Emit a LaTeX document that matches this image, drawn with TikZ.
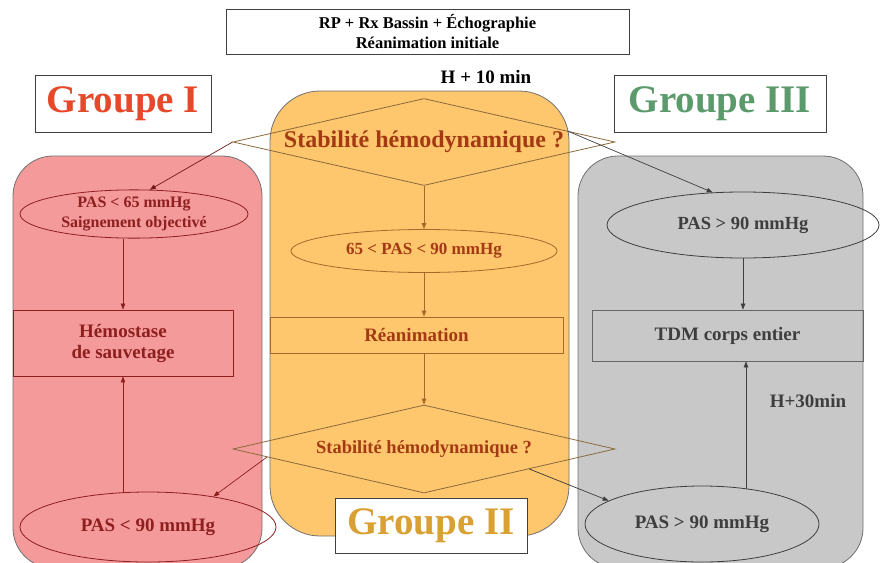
\documentclass[tikz,border=0pt]{standalone}
\usepackage{fontspec}
\setmainfont{Liberation Serif}
\usetikzlibrary{shapes.geometric,arrows.meta,calc}
\definecolor{redfill}{HTML}{F59A9B}
\definecolor{orfill}{HTML}{FEC66D}
\definecolor{grfill}{HTML}{C8C8C8}
\definecolor{redtxt}{HTML}{8E1F1F}
\definecolor{ortxt}{HTML}{A43A14}
\definecolor{orline}{HTML}{A8682C}
\definecolor{dialine}{HTML}{8C6A3C}
\definecolor{grtxt}{HTML}{3E3E3E}
\definecolor{panelline}{HTML}{707070}
\definecolor{gOne}{HTML}{E8482A}
\definecolor{gTwo}{HTML}{D9A033}
\definecolor{gThree}{HTML}{5B9A6B}
\newcommand{\fs}[2]{\fontsize{#1}{#2}\selectfont}
\tikzset{
  panel/.style={draw=panelline, line width=0.8pt, rounded corners=45pt},
  grbox/.style={draw=black!75, fill=white, line width=0.8pt, inner sep=0pt, font=\bfseries},
  ell/.style={ellipse, draw, line width=0.8pt, inner sep=0pt, align=center, font=\bfseries},
  rbox/.style={rectangle, draw, line width=0.8pt, inner sep=0pt, align=center, font=\bfseries},
  dia/.style={diamond, draw=dialine, line width=0.8pt, inner sep=0pt},
  arr/.style={-{Triangle[length=6pt,width=4.5pt]}, line width=0.7pt},
}
\begin{document}
\begin{tikzpicture}[x=1pt,y=-1pt]
\useasboundingbox (0,0) rectangle (885,562);
\clip (0,0) rectangle (885,562);
% top box
\node[grbox, minimum width=403pt, minimum height=45pt, align=center, font=\bfseries\fs{16.5}{20}] (top) at (427.5,31.5) {RP + Rx Bassin + Échographie\\Réanimation initiale};
\node[font=\bfseries\fs{19}{22}, inner sep=0pt] (h10) at (486,77) {H + 10 min};
% group labels
\node[grbox, minimum width=176pt, minimum height=57pt, text=gOne, font=\bfseries\fs{39}{45}] (g1) at (123,104) {Groupe I};
\node[grbox, minimum width=212pt, minimum height=57pt, text=gThree, font=\bfseries\fs{39}{45}] (g3) at (720,104) {Groupe III};
% panels
\draw[panel, fill=redfill, rounded corners=40pt] (13,156) rectangle (262,568);
\draw[panel, fill=orfill, rounded corners=50pt] (270,91) rectangle (569,536);
\draw[panel, fill=grfill, rounded corners=40pt] (578,156) rectangle (863,568);
% upper diamond
\node[dia, minimum width=382pt, minimum height=87pt,
  label={[text=ortxt, font=\bfseries\fs{24}{28}]center:Stabilité hémodynamique ?}] (d1) at (424,142) {};
% group I
\node[ell, draw=redtxt, text=redtxt, minimum width=228pt, minimum height=44pt, font=\bfseries\fs{16}{20}] (e1) at (134,214) {PAS < 65 mmHg\\Saignement objectivé};
\node[rbox, draw=redtxt, text=redtxt, minimum width=220pt, minimum height=66pt, font=\bfseries\fs{19}{21}] (hem) at (123,343) {Hémostase\\de sauvetage};
\node[ell, draw=redtxt, text=redtxt, minimum width=256pt, minimum height=70pt, font=\bfseries\fs{19}{22}] (e4) at (148,527) {PAS < 90 mmHg};
% group II
\node[ell, draw=orline, text=ortxt, minimum width=266pt, minimum height=43pt, font=\bfseries\fs{17}{20}] (e2) at (424,251) {65 < PAS < 90 mmHg};
\node[rbox, draw=orline, text=ortxt, minimum width=293pt, minimum height=36pt, font=\bfseries\fs{19}{22}] (rea) at (416.5,335) {Réanimation};
\node[dia, minimum width=382pt, minimum height=88pt,
  label={[text=ortxt, font=\bfseries\fs{18.5}{21}]center:Stabilité hémodynamique ?}] (d2) at (424,449) {};
% group III
\node[ell, draw=grtxt, text=grtxt, minimum width=272pt, minimum height=66pt, font=\bfseries\fs{18.5}{21}] (e3) at (743,225) {PAS > 90 mmHg};
\node[rbox, draw=grtxt!80, text=grtxt, minimum width=271pt, minimum height=51pt, font=\bfseries\fs{19}{22}] (tdm) at (727.5,335.5) {TDM corps entier};
\node[ell, draw=grtxt, text=grtxt, minimum width=234pt, minimum height=76pt, font=\bfseries\fs{19}{22}] (e5) at (702,524) {PAS > 90 mmHg};
\node[font=\bfseries\fs{19}{22}, text=grtxt, inner sep=0pt] (h30) at (808,401) {H+30min};
% group II label
\node[grbox, minimum width=192pt, minimum height=55pt, text=gTwo, font=\bfseries\fs{39}{45}] (g2) at (431,525.5) {Groupe II};
% connectors
\draw[arr, draw=redtxt!80!black] (d1.west) -- (e1.57);
\draw[arr, draw=grtxt] ($(d1.north)!0.75!(d1.east)$) -- (e3.133);
\draw[arr, draw=orline] (d1.south) -- (e2.north);
\draw[arr, draw=redtxt] (hem.north |- e1.south) -- (hem.north);
\draw[arr, draw=redtxt] (hem.south |- e4.north) ++(0,1) -- (hem.south);
\draw[arr, draw=orline] (e2.south) -- (e2.south |- rea.north);
\draw[arr, draw=orline] (d2.north |- rea.south) -- (d2.north);
\draw[arr, draw=grtxt] (e3.south) -- (e3.south |- tdm.north);
\draw[arr, draw=grtxt] ($(e3.south |- e5.north)+(3,3)$) -- ($(e3.south |- tdm.south)+(3,0)$);
\draw[arr, draw=redtxt] ($(d2.west)!0.18!(d2.south)$) -- (e4.25);
\draw[arr, draw=grtxt] ($(d2.south)!0.55!(d2.east)$) -- (e5.166);
\end{tikzpicture}
\end{document}
